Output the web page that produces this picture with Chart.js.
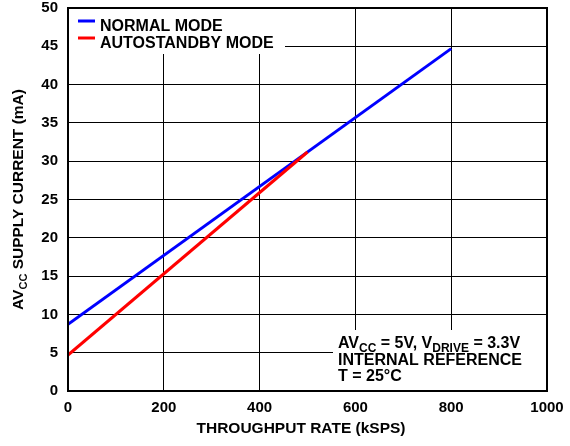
<!DOCTYPE html>
<html>
<head>
<meta charset="utf-8">
<script src="https://cdn.jsdelivr.net/npm/chart.js@4/dist/chart.umd.min.js"></script>
<style>
  body { margin: 0; background: #fff; }
  canvas { display: block; }
</style>
</head>
<body>
<canvas id="chart" width="570" height="446"></canvas>
<script>
// Data
const normalRate = [0, 800];
const normalCurrent = [8.7, 44.7];
const standbyRate = [0, 500];
const standbyCurrent = [4.7, 31.2];
const xTicks = [0, 200, 400, 600, 800, 1000];
const yTicks = [0, 5, 10, 15, 20, 25, 30, 35, 40, 45, 50];

const FONT = '"Liberation Sans", Arial, Helvetica, sans-serif';

function toPoints(xs, ys) {
  return xs.map((x, i) => ({ x: x, y: ys[i] }));
}

// draw text with subscript pieces: parts = [[text, isSub], ...]
function richWidth(ctx, parts, size, subSize) {
  let w = 0;
  parts.forEach(p => {
    ctx.font = 'bold ' + (p[1] ? subSize : size) + 'px ' + FONT;
    w += ctx.measureText(p[0]).width;
  });
  return w;
}
function drawRich(ctx, parts, x, y, size, subSize, align) {
  let w = richWidth(ctx, parts, size, subSize);
  let cx = align === 'center' ? x - w / 2 : x;
  ctx.textAlign = 'left';
  ctx.textBaseline = 'alphabetic';
  parts.forEach(p => {
    ctx.font = 'bold ' + (p[1] ? subSize : size) + 'px ' + FONT;
    ctx.fillText(p[0], cx, p[1] ? y + 4 : y);
    cx += ctx.measureText(p[0]).width;
  });
}

// no extra room for overhanging tick labels
function noPad(s) {
  s.paddingTop = 0;
  s.paddingBottom = 0;
  s.paddingLeft = 0;
  s.paddingRight = 0;
}

const decorations = {
  id: 'decorations',
  afterDraw(chart) {
    const ctx = chart.ctx;
    const a = chart.chartArea;
    ctx.save();

    // legend box
    ctx.fillStyle = '#fff';
    ctx.fillRect(a.left + 1, a.top + 1, 216, 45);
    const legend = [['NORMAL MODE', '#0000ff'], ['AUTOSTANDBY MODE', '#ff0000']];
    legend.forEach((item, i) => {
      const y = a.top + 18 + i * 17;
      ctx.strokeStyle = item[1];
      ctx.lineWidth = 3;
      ctx.beginPath();
      ctx.moveTo(a.left + 10, y - 5);
      ctx.lineTo(a.left + 27, y - 5);
      ctx.stroke();
      ctx.fillStyle = '#000';
      ctx.font = 'bold 16px ' + FONT;
      ctx.textAlign = 'left';
      ctx.textBaseline = 'alphabetic';
      ctx.fillText(item[0], a.left + 32, y + 5);
    });

    // condition box
    ctx.fillStyle = '#fff';
    ctx.fillRect(333, 330, a.right - 333 - 1, a.bottom - 330 - 1);
    ctx.fillStyle = '#000';
    drawRich(ctx, [['AV', false], ['CC', true], [' = 5V, V', false], ['DRIVE', true], [' = 3.3V', false]], 338, 348, 16, 12, 'left');
    drawRich(ctx, [['INTERNAL REFERENCE', false]], 338, 365, 16, 12, 'left');
    drawRich(ctx, [['T = 25\u00b0C', false]], 338, 381, 16, 12, 'left');

    // frame
    ctx.strokeStyle = '#000';
    ctx.lineWidth = 2;
    ctx.strokeRect(a.left, a.top, a.right - a.left, a.bottom - a.top);

    // axis titles
    drawRich(ctx, [['THROUGHPUT RATE (kSPS)', false]], 301, 433, 15.5, 11, 'center');
    ctx.translate(23, (a.top + a.bottom) / 2);
    ctx.rotate(-Math.PI / 2);
    drawRich(ctx, [['AV', false], ['CC', true], [' SUPPLY CURRENT (mA)', false]], 0, 0, 15.5, 11, 'center');
    ctx.restore();
  }
};

new Chart(document.getElementById('chart'), {
  type: 'scatter',
  data: {
    datasets: [
      {
        label: 'AUTOSTANDBY MODE',
        data: toPoints(standbyRate, standbyCurrent),
        showLine: true,
        borderColor: '#ff0000',
        borderWidth: 3,
        pointRadius: 0,
        order: 0
      },
      {
        label: 'NORMAL MODE',
        data: toPoints(normalRate, normalCurrent),
        showLine: true,
        borderColor: '#0000ff',
        borderWidth: 3,
        pointRadius: 0,
        order: 1
      }
    ]
  },
  options: {
    responsive: false,
    animation: false,
    layout: { padding: { top: 8, right: 23, left: 0, bottom: 0 } },
    plugins: { legend: { display: false }, tooltip: { enabled: false } },
    scales: {
      x: {
        type: 'linear',
        min: 0,
        max: 1000,
        afterBuildTicks: s => { s.ticks = xTicks.map(v => ({ value: v })); },
        afterFit: s => { s.height = 55; noPad(s); },
        grid: { color: '#000', lineWidth: 1, drawTicks: false },
        border: { display: false },
        ticks: { color: '#000', padding: 8, callback: v => String(v), font: { family: FONT, size: 15, weight: 'bold' } }
      },
      y: {
        min: 0,
        max: 50,
        afterBuildTicks: s => { s.ticks = yTicks.map(v => ({ value: v })); },
        afterFit: s => { s.width = 68; noPad(s); },
        grid: { color: '#000', lineWidth: 1, drawTicks: false },
        border: { display: false },
        ticks: { color: '#000', padding: 10, font: { family: FONT, size: 15, weight: 'bold' } }
      }
    }
  },
  plugins: [decorations]
});
</script>
</body>
</html>
